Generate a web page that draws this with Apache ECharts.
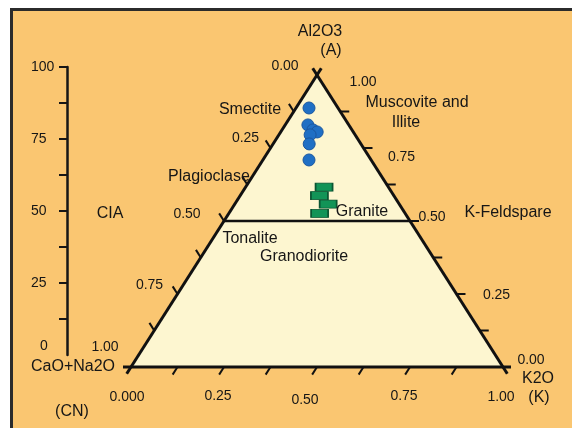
<!DOCTYPE html>
<html><head><meta charset="utf-8">
<script src="https://cdn.jsdelivr.net/npm/echarts@6/dist/echarts.min.js"></script>
<style>html,body{margin:0;padding:0;background:#fff;}#c{width:572px;height:428px;}</style>
</head><body><div id="c"></div>
<script>
// ---- DATA (ternary fractions: A = Al2O3, CN = CaO+Na2O, K = K2O) ----
const smectiteA  = [0.887, 0.829, 0.812, 0.805, 0.795, 0.764, 0.709];
const smectiteCN = [0.078, 0.110, 0.105, 0.097, 0.121, 0.139, 0.167];
const smectiteK  = [0.035, 0.061, 0.083, 0.098, 0.084, 0.097, 0.124];

const graniteA  = [0.616, 0.587, 0.558, 0.526];
const graniteCN = [0.173, 0.200, 0.191, 0.230];
const graniteK  = [0.211, 0.213, 0.251, 0.244];

const edgeTickValues = [0.125, 0.25, 0.375, 0.5, 0.625, 0.75, 0.875];
const edgeLabelValues = [0, 0.25, 0.5, 0.75, 1];
const cnLabels = ['0.00', '0.25', '0.50', '0.75', '1.00'];   // left edge, CN
const aLabels  = ['0.00', '0.25', '0.50', '0.75', '1.00'];   // right edge, A
const kLabels  = ['0.000', '0.25', '0.50', '0.75', '1.00'];  // base, K
const divisionA = 0.5;

const ciaTickValues  = [12.5, 25, 37.5, 50, 62.5, 75, 87.5, 100];
const ciaLabelValues = [0, 25, 50, 75, 100];

// ---- helpers / layout ----
function toXY(A, CN, K) { const s = A + CN + K; return [(K + A / 2) / s, A / s]; }
const FONT = 'Liberation Sans';
const INK = '#161616';
const corners = [[0, 1, 0], [0, 0, 1], [1, 0, 0]]; // CN corner, K corner, A apex

// pixel nudges of the edge tick labels from their edge point (layout only)
const labelNudge = [
  [[-32, -9], [-25, -10], [-37, -7], [-28, -9], [-26, -20]],  // left edge, by CN value
  [[28, -7], [40, 1], [22, -4], [38, 9], [46, 7]],             // right edge, by A value
  [[-4, 30], [-6, 29], [-12, 33], [-6, 29], [-2, 30]]          // base, by K value
];

const tickItems = [];
edgeTickValues.forEach(v => {
  tickItems.push([1 - v, v, 0, 0]);
  tickItems.push([v, 0, 1 - v, 1]);
  tickItems.push([0, 1 - v, v, 2]);
});
const labelItems = [];
edgeLabelValues.forEach((v, i) => {
  labelItems.push([1 - v, v, 0, 0, i]);
  labelItems.push([v, 0, 1 - v, 1, i]);
  labelItems.push([0, 1 - v, v, 2, i]);
});

function norm(dx, dy) { const l = Math.hypot(dx, dy); return [dx / l, dy / l]; }
function edgeDirs(api) {
  const BL = api.coord(toXY(...corners[0])), BR = api.coord(toXY(...corners[1])), T = api.coord(toXY(...corners[2]));
  return [norm(T[0] - BR[0], T[1] - BR[1]), [1, 0], norm(BL[0] - T[0], BL[1] - T[1])];
}

const chart = echarts.init(document.getElementById('c'));

const texts = [
  ['Al2O3', 320, 32], ['(A)', 331, 51], ['Smectite', 250, 110], ['Muscovite and', 417, 103],
  ['Illite', 406, 123], ['Plagioclase', 209, 177], ['CIA', 110, 214], ['Granite', 362, 212],
  ['K-Feldspare', 508, 213], ['Tonalite', 250, 239], ['Granodiorite', 304, 257],
  ['CaO+Na2O', 73, 367], ['K2O', 538, 379], ['(CN)', 72, 412], ['(K)', 539, 398]
];

const option = {
  animation: false,
  backgroundColor: '#ffffff',
  graphic: [
    { type: 'rect', z: -10, shape: { x: 11, y: 9, width: 600, height: 460 }, style: { fill: '#FAC671' } },
    { type: 'polyline', z: -9, shape: { points: [[11.5, 440], [11.5, 9.5], [600, 9.5]] }, style: { stroke: '#2b2b2b', lineWidth: 3, fill: null } }
  ].concat(texts.map(t => ({
    type: 'text', x: t[1], y: t[2], z: 5,
    style: { text: t[0], fill: INK, fontSize: 16, fontFamily: FONT, align: 'center', verticalAlign: 'middle' }
  }))),
  grid: [
    { left: 131, right: 69, top: 75, bottom: 61 },
    { left: 67, width: 10, top: 67, bottom: 73 }
  ],
  xAxis: [
    { gridIndex: 0, type: 'value', min: 0, max: 1, show: false },
    { gridIndex: 1, type: 'value', min: 0, max: 1, show: false }
  ],
  yAxis: [
    { gridIndex: 0, type: 'value', min: 0, max: 1, show: false },
    {
      gridIndex: 1, type: 'value', min: 0, max: 100, interval: 12.5, position: 'left',
      axisLine: { show: true, lineStyle: { color: INK, width: 2.5 } },
      axisTick: { show: true, length: 8, customValues: ciaTickValues, lineStyle: { color: INK, width: 2 } },
      axisLabel: {
        show: true, customValues: ciaLabelValues, align: 'left', margin: 36,
        color: INK, fontSize: 14, fontFamily: FONT,
        formatter: v => (v === 0 ? '{z|0}' : (v % 25 === 0 ? String(v) : '')),
        rich: { z: { fontSize: 14, fontFamily: FONT, color: INK, padding: [0, 0, 18, 9] } }
      },
      splitLine: { show: false }
    }
  ],
  series: [
    {
      type: 'custom', xAxisIndex: 0, yAxisIndex: 0, z: 1, silent: true,
      data: [[0.5, 0.5]],
      renderItem: (params, api) => {
        const P = corners.map(c => api.coord(toXY(...c)));
        const ext = 8;
        const children = [{ type: 'polygon', shape: { points: P }, style: { fill: '#FDF6D0', stroke: null } }];
        for (let i = 0; i < 3; i++) {
          const a = P[i], b = P[(i + 1) % 3];
          const d = norm(b[0] - a[0], b[1] - a[1]);
          children.push({ type: 'line', shape: { x1: a[0] - d[0] * ext, y1: a[1] - d[1] * ext, x2: b[0] + d[0] * ext, y2: b[1] + d[1] * ext },
            style: { stroke: '#111', lineWidth: 3 } });
        }
        const L1 = api.coord(toXY(divisionA, 1 - divisionA, 0)), L2 = api.coord(toXY(divisionA, 0, 1 - divisionA));
        children.push({ type: 'line', shape: { x1: L1[0], y1: L1[1], x2: L2[0], y2: L2[1] }, style: { stroke: '#111', lineWidth: 2.5 } });
        return { type: 'group', children };
      }
    },
    {
      type: 'custom', xAxisIndex: 0, yAxisIndex: 0, z: 1, silent: true,
      data: tickItems,
      renderItem: (params, api) => {
        const p = api.coord(toXY(api.value(0), api.value(1), api.value(2)));
        const d = edgeDirs(api)[api.value(3)];
        const L = 9;
        return { type: 'line', shape: { x1: p[0], y1: p[1], x2: p[0] + d[0] * L, y2: p[1] + d[1] * L }, style: { stroke: '#111', lineWidth: 2 } };
      }
    },
    {
      type: 'custom', xAxisIndex: 0, yAxisIndex: 0, z: 1, silent: true,
      data: labelItems,
      renderItem: (params, api) => {
        const p = api.coord(toXY(api.value(0), api.value(1), api.value(2)));
        const e = api.value(3), i = api.value(4);
        const off = labelNudge[e][i];
        const txt = [cnLabels, aLabels, kLabels][e][i];
        return { type: 'text', x: p[0] + off[0], y: p[1] + off[1],
          style: { text: txt, fill: INK, fontSize: 14, fontFamily: FONT, align: 'center', verticalAlign: 'middle' } };
      }
    },
    {
      type: 'scatter', xAxisIndex: 0, yAxisIndex: 0, z: 3,
      symbol: 'circle', symbolSize: 12,
      itemStyle: { color: '#1F6FC4', borderColor: '#1A57A0', borderWidth: 1, opacity: 1 },
      data: smectiteA.map((a, i) => toXY(a, smectiteCN[i], smectiteK[i]))
    },
    {
      type: 'scatter', xAxisIndex: 0, yAxisIndex: 0, z: 3,
      symbol: 'rect', symbolSize: [17, 8],
      itemStyle: { color: '#129457', borderColor: '#0A5532', borderWidth: 1.2, opacity: 1 },
      data: graniteA.map((a, i) => toXY(a, graniteCN[i], graniteK[i]))
    },
    { type: 'scatter', xAxisIndex: 1, yAxisIndex: 1, data: [] }
  ]
};
chart.setOption(option);
</script>
</body></html>
